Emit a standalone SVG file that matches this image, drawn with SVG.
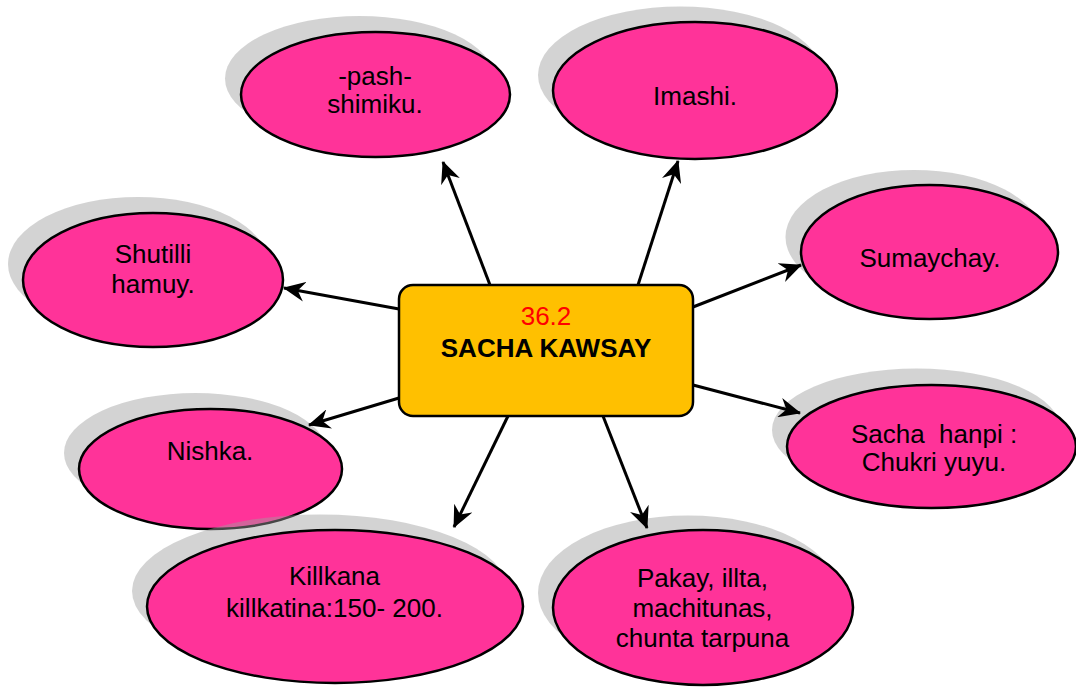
<svg xmlns="http://www.w3.org/2000/svg" width="1076" height="687" viewBox="0 0 1076 687">
<defs>
<style>
.sh{fill:#9e9e9e;fill-opacity:0.45;stroke:none}
.el{fill:#FF3399;stroke:#000;stroke-width:2.5}
.t{font-family:"Liberation Sans",Arial,sans-serif;font-size:26px;fill:#000;text-anchor:middle}
.c{stroke:#000;stroke-width:3;fill:none;marker-end:url(#ah)}
</style>
<marker id="ah" viewBox="0 0 22 20" refX="21" refY="10" markerWidth="22" markerHeight="20" markerUnits="userSpaceOnUse" orient="auto">
<path d="M0,0 L22,10 L0,20 L7,10 z" fill="#000"/>
</marker>
</defs>
<rect width="1076" height="687" fill="#fff"/>
<g id="n-pash">
<ellipse class="sh" cx="359.5" cy="78.5" rx="134.5" ry="62.5"/>
<ellipse class="el" cx="375.5" cy="94.5" rx="134.5" ry="62.5"/>
<text class="t" x="375" y="85">-pash-</text>
<text class="t" x="375" y="113">shimiku.</text>
</g>
<g id="n-imashi">
<ellipse class="sh" cx="680" cy="75" rx="142" ry="68.5"/>
<ellipse class="el" cx="695" cy="90.5" rx="142" ry="68.5"/>
<text class="t" x="695" y="105">Imashi.</text>
</g>
<g id="n-sumaychay">
<ellipse class="sh" cx="914" cy="237" rx="128.5" ry="67"/>
<ellipse class="el" cx="929.5" cy="252" rx="128.5" ry="67"/>
<text class="t" x="930" y="267">Sumaychay.</text>
</g>
<g id="n-shutilli">
<ellipse class="sh" cx="138" cy="264" rx="130" ry="67"/>
<ellipse class="el" cx="153" cy="280" rx="130" ry="67"/>
<text class="t" x="153" y="263">Shutilli</text>
<text class="t" x="153" y="293">hamuy.</text>
</g>
<g id="n-nishka">
<ellipse class="sh" cx="195.5" cy="453" rx="131.5" ry="60"/>
<ellipse class="el" cx="210.5" cy="469" rx="131.5" ry="60"/>
<text class="t" x="210" y="460">Nishka.</text>
</g>
<g id="n-sachahanpi">
<ellipse class="sh" cx="916.5" cy="430" rx="144.5" ry="61.5"/>
<ellipse class="el" cx="931.5" cy="446.5" rx="144.5" ry="61.5"/>
<text class="t" x="934" y="443" xml:space="preserve">Sacha  hanpi :</text>
<text class="t" x="934" y="471">Chukri yuyu.</text>
</g>
<g id="n-killkana">
<ellipse class="sh" cx="320" cy="591" rx="188" ry="76.5"/>
<ellipse class="el" cx="335" cy="606.5" rx="188" ry="76.5"/>
<text class="t" x="334.5" y="585">Killkana</text>
<text class="t" x="334.5" y="617">killkatina:150- 200.</text>
</g>
<g id="n-pakay">
<ellipse class="sh" cx="688" cy="593" rx="150" ry="77.5"/>
<ellipse class="el" cx="703" cy="607.5" rx="150" ry="77.5"/>
<text class="t" x="702.5" y="587">Pakay, illta,</text>
<text class="t" x="702.5" y="617">machitunas,</text>
<text class="t" x="702.5" y="647">chunta tarpuna</text>
</g>
<g id="n-center">
<rect x="399" y="285" width="294" height="131" rx="14" ry="14" fill="#FFC000" stroke="#000" stroke-width="2.5"/>
<text x="546" y="325" font-family="Liberation Sans, Arial, sans-serif" font-size="26" fill="#FF0000" text-anchor="middle">36.2</text>
<text x="546" y="357" font-family="Liberation Sans, Arial, sans-serif" font-size="26" font-weight="bold" fill="#000" text-anchor="middle">SACHA KAWSAY</text>
</g>
<g id="connectors">
<line class="c" x1="490" y1="285" x2="443" y2="162"/>
<line class="c" x1="638" y1="285" x2="678" y2="161"/>
<line class="c" x1="693" y1="307" x2="801" y2="265"/>
<line class="c" x1="399" y1="309" x2="284" y2="288"/>
<line class="c" x1="399" y1="398" x2="309" y2="425"/>
<line class="c" x1="693" y1="385" x2="800" y2="413"/>
<line class="c" x1="508" y1="416" x2="454" y2="527"/>
<line class="c" x1="603" y1="416" x2="647" y2="528"/>
</g>
</svg>
